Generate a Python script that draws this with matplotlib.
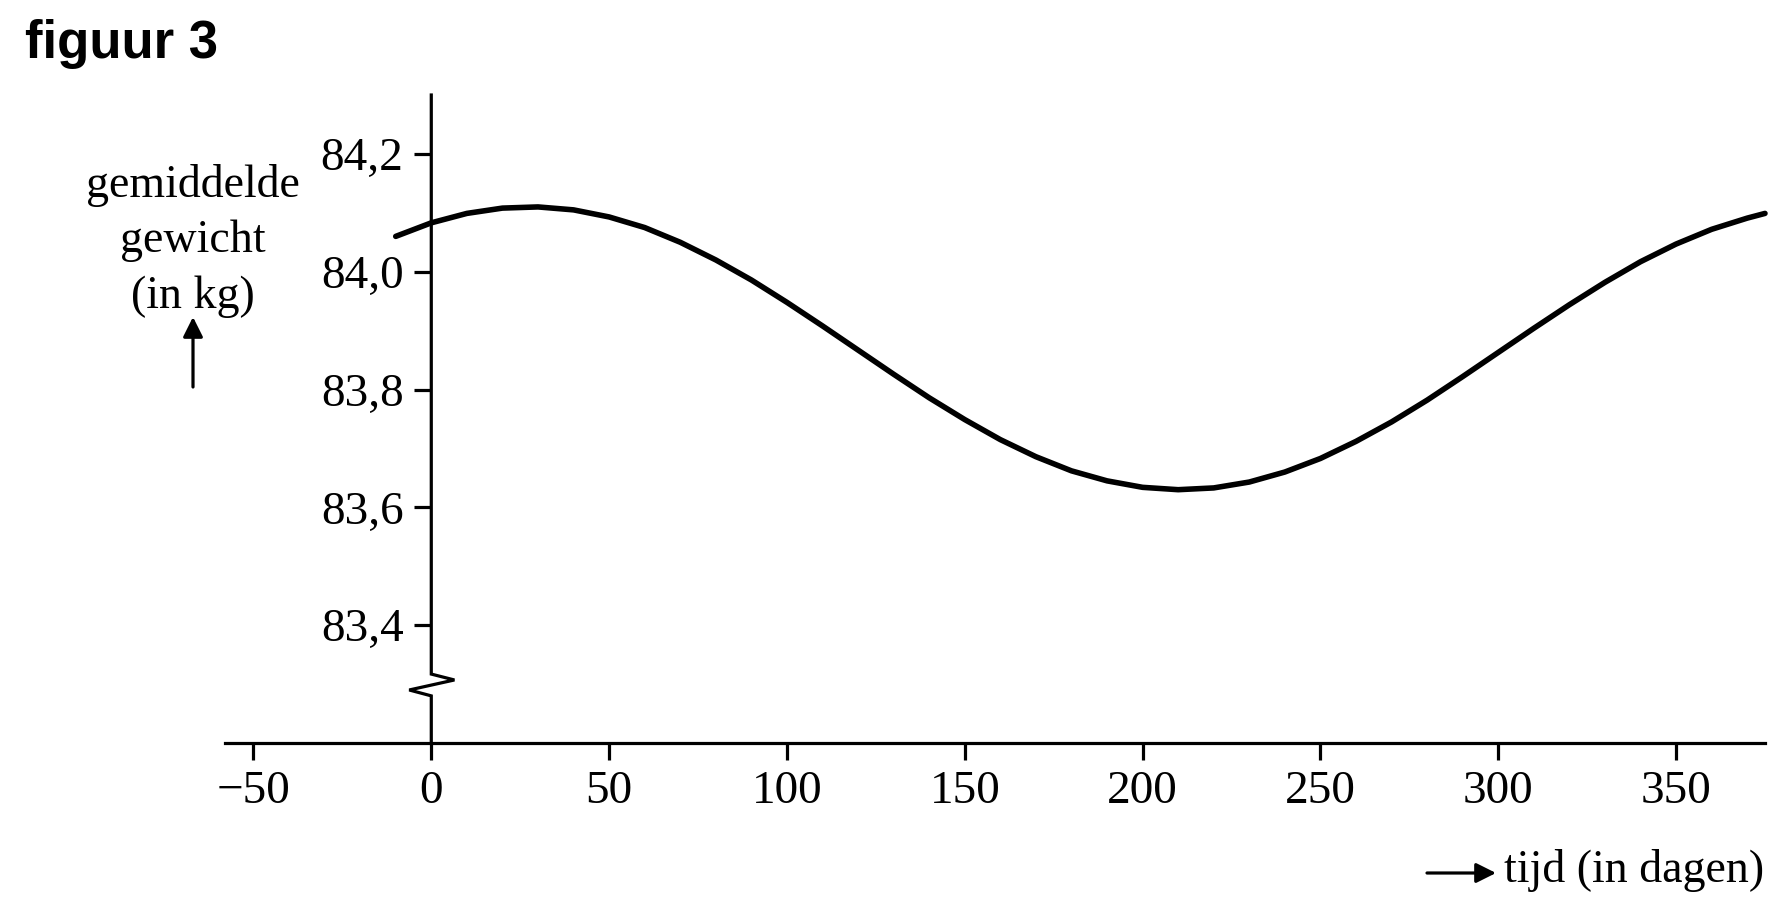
import matplotlib
matplotlib.use('Agg')
import matplotlib.pyplot as plt

# tijd (dagen) en gemiddeld gewicht (kg)
days = [-10, 0, 10, 20, 30, 40, 50, 60, 70, 80, 90, 100, 110, 120, 130, 140,
        150, 160, 170, 180, 190, 200, 210, 220, 230, 240, 250, 260, 270, 280,
        290, 300, 310, 320, 330, 340, 350, 360, 370, 375]
weight = [84.060, 84.083, 84.099, 84.108, 84.110, 84.105, 84.093, 84.075,
          84.050, 84.020, 83.986, 83.948, 83.908, 83.867, 83.826, 83.786,
          83.749, 83.715, 83.686, 83.662, 83.645, 83.634, 83.630, 83.633,
          83.643, 83.660, 83.683, 83.712, 83.745, 83.782, 83.822, 83.863,
          83.904, 83.944, 83.982, 84.017, 84.047, 84.072, 84.091, 84.099]

x_ticks = [-50, 0, 50, 100, 150, 200, 250, 300, 350]
x_ticklabels = ['\u221250', '0', '50', '100', '150', '200', '250', '300', '350']
y_ticks = [83.4, 83.6, 83.8, 84.0, 84.2]
y_ticklabels = ['83,4', '83,6', '83,8', '84,0', '84,2']

SERIF = 'Liberation Serif'
W, H = 1790, 902

fig = plt.figure(figsize=(W / 100, H / 100), dpi=100)
ax = fig.add_axes([225 / W, 1 - 743 / H, 1540 / W, 648 / H])

ax.plot(days, weight, color='black', lw=4.0, solid_capstyle='round', clip_on=False)

ax.set_xlim(-58, 375)
ax.set_ylim(83.2, 84.3)

for s in ['top', 'right', 'left']:
    ax.spines[s].set_visible(False)
ax.spines['bottom'].set_linewidth(2.3)
ax.spines['left'].set_position(('data', 0))

# y-as met breuk (zigzag)
ax.plot([0, 0, 6.5, -6.2, 0, 0], [84.3, 83.317, 83.307, 83.290, 83.280, 83.2],
        color='black', lw=2.3, clip_on=False, solid_joinstyle='miter')

ax.set_xticks(x_ticks)
ax.set_xticklabels(x_ticklabels, fontfamily=SERIF, fontsize=34)
ax.set_yticks(y_ticks)
ax.set_yticklabels(y_ticklabels, fontfamily=SERIF, fontsize=34)
ax.tick_params(axis='both', direction='out', length=12, width=2.3, pad=8)

fig.text(25 / W, 1 - 58 / H, 'figuur 3', fontfamily='Liberation Sans',
         fontweight='bold', fontsize=38, ha='left', va='baseline')

fig.text(193 / W, 1 - 241 / H, 'gemiddelde\ngewicht\n(in kg)', fontfamily=SERIF,
         fontsize=33, ha='center', va='center', linespacing=1.4)
fig.add_artist(matplotlib.patches.FancyArrowPatch(
    (193 / W, 1 - 387 / H), (193 / W, 1 - 317 / H), transform=fig.transFigure,
    arrowstyle='-|>', mutation_scale=30, color='black', lw=2.3,
    shrinkA=0, shrinkB=0))

fig.text(1764 / W, 1 - 870 / H, 'tijd (in dagen)', fontfamily=SERIF,
         fontsize=33, ha='right', va='center')
fig.add_artist(matplotlib.patches.FancyArrowPatch(
    (1427 / W, 1 - 873 / H), (1496 / W, 1 - 873 / H), transform=fig.transFigure,
    arrowstyle='-|>', mutation_scale=30, color='black', lw=2.3,
    shrinkA=0, shrinkB=0))

fig.savefig('out.png', dpi=100, facecolor='white')
